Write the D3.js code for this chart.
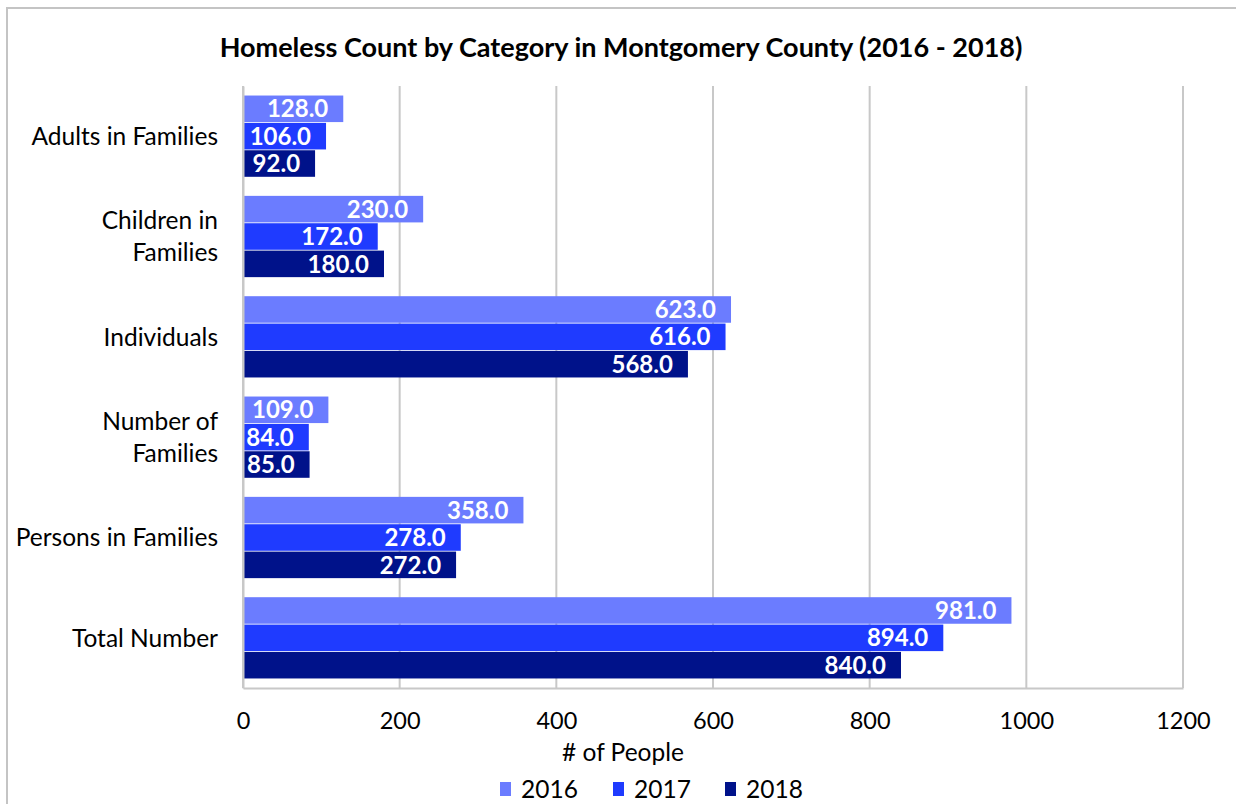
<!DOCTYPE html>
<html>
<head>
<meta charset="utf-8">
<script src="https://cdn.jsdelivr.net/npm/d3@7"></script>
<style>
  body { margin: 0; background: #fff; }
  text { font-family: Lato, "Open Sans", sans-serif; }
</style>
</head>
<body>
<div id="chart"></div>
<script>
// chart data
var categories = ["Adults in Families", "Children in Families", "Individuals", "Number of Families", "Persons in Families", "Total Number"];
var categoryLines = [["Adults in Families"], ["Children in", "Families"], ["Individuals"], ["Number of", "Families"], ["Persons in Families"], ["Total Number"]];
var years = ["2016", "2017", "2018"];
var values2016 = [128, 230, 623, 109, 358, 981];
var values2017 = [106, 172, 616, 84, 278, 894];
var values2018 = [92, 180, 568, 85, 272, 840];
var xTicks = [0, 200, 400, 600, 800, 1000, 1200];

var w = 1236, h = 804;
var plotLeft = 243, plotRight = 1183, plotTop = 86, plotBottom = 688;
var colors = ["#6b7cff", "#1f3bff", "#00128a"];

var series = [values2016, values2017, values2018];
var dataset = [];
categories.forEach(function(c, i) {
    years.forEach(function(y, j) {
        dataset.push({ cat: c, year: y, value: series[j][i] });
    });
});

var svg = d3.select("#chart").append("svg")
    .attr("width", w)
    .attr("height", h);

// outer frame
svg.append("rect")
    .attr("x", 7).attr("y", 8)
    .attr("width", w + 10).attr("height", h + 10)
    .attr("fill", "#fff")
    .attr("stroke", "#c4c4c4")
    .attr("stroke-width", 2);

var xScale = d3.scaleLinear().domain([0, 1200]).range([plotLeft, plotRight]);
var yScale = d3.scaleBand().domain(categories).range([plotTop, plotBottom])
    .paddingInner(0.19).paddingOuter(0.095);
var yInner = d3.scaleBand().domain(years).range([0, yScale.bandwidth()]).paddingInner(0.03);
var color = d3.scaleOrdinal().domain(years).range(colors);

// gridlines
svg.append("g").selectAll("line")
    .data(xTicks)
    .enter().append("line")
    .attr("x1", d => xScale(d)).attr("x2", d => xScale(d))
    .attr("y1", plotTop).attr("y2", plotBottom)
    .attr("stroke", "#c8c8c8")
    .attr("stroke-width", 2);

// bars
svg.append("g").selectAll("rect")
    .data(dataset)
    .enter().append("rect")
    .attr("x", xScale(0) + 1)
    .attr("y", d => yScale(d.cat) + yInner(d.year))
    .attr("width", d => xScale(d.value) - xScale(0) - 1)
    .attr("height", yInner.bandwidth())
    .attr("fill", d => color(d.year));

// value labels
svg.append("g").selectAll("text")
    .data(dataset)
    .enter().append("text")
    .attr("x", d => xScale(d.value) - 15)
    .attr("y", d => yScale(d.cat) + yInner(d.year) + yInner.bandwidth() / 2)
    .attr("dy", "0.36em")
    .attr("text-anchor", "end")
    .attr("font-size", "24px")
    .attr("font-weight", "bold")
    .attr("fill", "#fff")
    .text(d => d.value.toFixed(1));

// bottom axis
var xAxis = d3.axisBottom(xScale).tickValues(xTicks).tickSize(0).tickPadding(24).tickFormat(d3.format("d"));
var gx = svg.append("g")
    .attr("transform", `translate(0,${plotBottom})`)
    .call(xAxis);
gx.select(".domain").attr("stroke", "#c8c8c8").attr("stroke-width", 2);
gx.selectAll("text").attr("font-size", "23.5px").attr("fill", "#000")
    .style("font-family", "Lato, sans-serif");

// left axis line
var yAxis = d3.axisLeft(yScale).tickSize(0).tickFormat("");
var gy = svg.append("g")
    .attr("transform", `translate(${plotLeft},0)`)
    .call(yAxis);
gy.select(".domain").attr("stroke", "#c8c8c8").attr("stroke-width", 2);

// category labels
svg.append("g").selectAll("text")
    .data(categories)
    .enter().append("text")
    .attr("x", 218)
    .attr("y", d => yScale(d) + yScale.bandwidth() / 2)
    .attr("text-anchor", "end")
    .attr("font-size", "24.5px")
    .attr("fill", "#000")
    .each(function(d, i) {
        var lines = categoryLines[i];
        var sel = d3.select(this);
        lines.forEach(function(l, k) {
            sel.append("tspan")
                .attr("x", 218)
                .attr("dy", k === 0 ? (0.36 - (lines.length - 1) * 0.66) + "em" : "1.32em")
                .text(l);
        });
    });

// title
svg.append("text")
    .attr("x", 621).attr("y", 57)
    .attr("text-anchor", "middle")
    .attr("font-size", "27px")
    .attr("font-weight", "bold")
    .text("Homeless Count by Category in Montgomery County (2016 - 2018)");

// axis title
svg.append("text")
    .attr("x", 623).attr("y", 761)
    .attr("text-anchor", "middle")
    .attr("font-size", "24.5px")
    .text("# of People");

// legend
var legendX = [500, 613, 725];
var legend = svg.append("g").selectAll("g")
    .data(years)
    .enter().append("g")
    .attr("transform", (d, i) => `translate(${legendX[i]},789)`);
legend.append("rect")
    .attr("x", 0).attr("y", -7)
    .attr("width", 11).attr("height", 14)
    .attr("fill", d => color(d));
legend.append("text")
    .attr("x", 21).attr("dy", "0.36em")
    .attr("font-size", "24.5px")
    .text(d => d);
</script>
</body>
</html>
